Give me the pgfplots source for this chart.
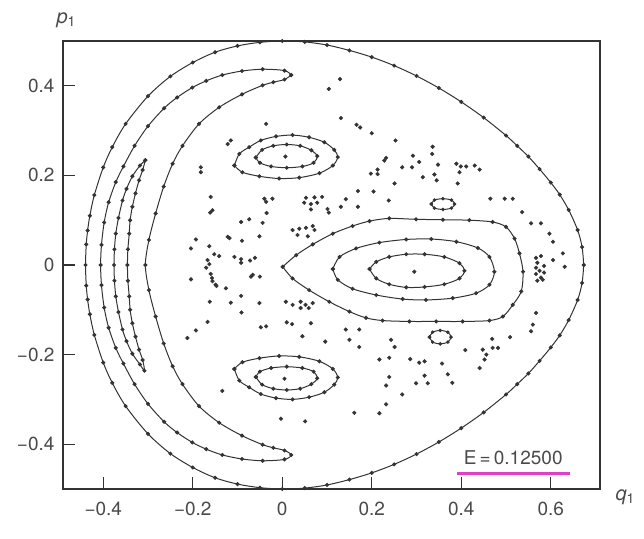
\documentclass[border=0pt]{standalone}
\usepackage{fontspec}
\setmainfont{TeX Gyre Heros}
\usepackage{pgfplots}
\pgfplotsset{compat=1.18}
\definecolor{ink}{HTML}{333333}
\definecolor{txt}{HTML}{4A4A4A}
\definecolor{hl}{HTML}{E040C8}
\pgfplotsset{
  orbit/.style={smooth, tension=0.5, line width=1pt, color=ink, mark=*, mark size=1.5pt},
  sea/.style={only marks, mark=*, mark size=1.9pt, color=ink},
}
\begin{document}
\begin{tikzpicture}
\useasboundingbox (-63pt,-49pt) rectangle (581pt,489pt);
\begin{axis}[
  scale only axis, width=537pt, height=448pt,
  xmin=-0.49, xmax=0.71, ymin=-0.5, ymax=0.5,
  clip=false,
  axis line style={draw=ink, line width=1.3pt},
  tick align=inside, tick pos=left, major tick length=12pt,
  tick style={draw=ink, line width=1.3pt},
  xtick={-0.4,-0.2,0,0.2,0.4,0.6},
  xticklabels={−0.4,−0.2,0,0.2,0.4,0.6},
  ytick={-0.4,-0.2,0,0.2,0.4},
  yticklabels={−0.4,−0.2,0,0.2,0.4},
  tick label style={font=\fontsize{19}{21}\selectfont, color=txt},
  xticklabel style={yshift=-9pt},
  yticklabel style={xshift=-5pt},
  xlabel={\textit{q}\textsubscript{1}},
  ylabel={\textit{p}\textsubscript{1}},
  every axis x label/.style={at={(rel axis cs:1,0)}, anchor=west, xshift=12pt, yshift=-8pt, font=\fontsize{20}{22}\selectfont, color=txt},
  every axis y label/.style={at={(rel axis cs:0,1)}, anchor=south west, xshift=-10pt, yshift=10pt, font=\fontsize{20}{22}\selectfont, color=txt},
]
% energy boundary
\addplot[orbit] coordinates {(0.6736,0) (0.670,0.040) (0.660,0.078) (0.640,0.123) (0.620,0.157) (0.600,0.184) (0.575,0.214) (0.550,0.242) (0.525,0.266) (0.500,0.289) (0.450,0.329) (0.400,0.364) (0.350,0.395) (0.300,0.422) (0.250,0.445) (0.200,0.464) (0.150,0.479) (0.100,0.491) (0.050,0.498) (0,0.500) (-0.050,0.497) (-0.100,0.489) (-0.150,0.475) (-0.200,0.452) (-0.250,0.421) (-0.300,0.377) (-0.350,0.315) (-0.380,0.263) (-0.400,0.218) (-0.420,0.156) (-0.430,0.110) (-0.435,0.077) (-0.438,0.046) (-0.4397,0) (-0.438,-0.046) (-0.435,-0.077) (-0.430,-0.110) (-0.420,-0.156) (-0.400,-0.218) (-0.380,-0.263) (-0.350,-0.315) (-0.300,-0.377) (-0.250,-0.421) (-0.200,-0.452) (-0.150,-0.475) (-0.100,-0.489) (-0.050,-0.497) (0,-0.500) (0.050,-0.498) (0.100,-0.491) (0.150,-0.479) (0.200,-0.464) (0.250,-0.445) (0.300,-0.422) (0.350,-0.395) (0.400,-0.364) (0.450,-0.329) (0.500,-0.289) (0.525,-0.266) (0.550,-0.242) (0.575,-0.214) (0.600,-0.184) (0.620,-0.157) (0.640,-0.123) (0.660,-0.078) (0.670,-0.040) (0.6736,0)};
% big crescent
\addplot[orbit] coordinates {(0.020,0.424) (0.005,0.434) (-0.044,0.437) (-0.090,0.433) (-0.134,0.424) (-0.170,0.411) (-0.201,0.396) (-0.235,0.374) (-0.264,0.350) (-0.300,0.310) (-0.330,0.266) (-0.355,0.220) (-0.372,0.185) (-0.388,0.140) (-0.398,0.095) (-0.404,0.045) (-0.406,0) (-0.404,-0.045) (-0.398,-0.095) (-0.388,-0.140) (-0.372,-0.185) (-0.355,-0.220) (-0.330,-0.266) (-0.300,-0.310) (-0.264,-0.350) (-0.235,-0.374) (-0.201,-0.396) (-0.170,-0.411) (-0.134,-0.424) (-0.090,-0.433) (-0.044,-0.437) (0.005,-0.434) (0.020,-0.424) (0.005,-0.414) (-0.020,-0.408) (-0.044,-0.401) (-0.090,-0.381) (-0.141,-0.352) (-0.186,-0.315) (-0.223,-0.266) (-0.245,-0.226) (-0.265,-0.175) (-0.283,-0.115) (-0.298,-0.056) (-0.306,0) (-0.298,0.056) (-0.283,0.115) (-0.265,0.175) (-0.245,0.226) (-0.223,0.266) (-0.186,0.315) (-0.141,0.352) (-0.090,0.381) (-0.044,0.401) (-0.020,0.408) (0.005,0.414) (0.020,0.424)};
% small crescent
\addplot[orbit] coordinates {(-0.306,0.234) (-0.318,0.222) (-0.335,0.198) (-0.348,0.170) (-0.357,0.144) (-0.366,0.105) (-0.372,0.070) (-0.375,0.035) (-0.376,0) (-0.375,-0.035) (-0.372,-0.070) (-0.366,-0.105) (-0.357,-0.144) (-0.348,-0.170) (-0.335,-0.198) (-0.318,-0.222) (-0.308,-0.236) (-0.312,-0.212) (-0.320,-0.189) (-0.328,-0.160) (-0.335,-0.130) (-0.340,-0.100) (-0.342,-0.070) (-0.345,-0.035) (-0.346,0) (-0.345,0.035) (-0.342,0.070) (-0.340,0.100) (-0.335,0.130) (-0.328,0.160) (-0.320,0.189) (-0.312,0.212) (-0.306,0.234)};
% upper island
\addplot[orbit] coordinates {(-0.107,0.222) (-0.096,0.248) (-0.074,0.263) (-0.048,0.278) (-0.014,0.287) (0.023,0.290) (0.060,0.285) (0.094,0.274) (0.116,0.257) (0.124,0.241) (0.113,0.222) (0.083,0.205) (0.038,0.195) (-0.007,0.193) (-0.051,0.198) (-0.089,0.207) (-0.107,0.222)};
\addplot[orbit] coordinates {(-0.059,0.240) (-0.045,0.257) (-0.020,0.266) (0.010,0.269) (0.040,0.266) (0.065,0.256) (0.078,0.243) (0.070,0.228) (0.045,0.220) (0.010,0.217) (-0.025,0.220) (-0.050,0.228) (-0.059,0.240)};
% lower island
\addplot[orbit] coordinates {(-0.107,-0.232) (-0.096,-0.258) (-0.074,-0.273) (-0.048,-0.288) (-0.014,-0.297) (0.023,-0.300) (0.060,-0.295) (0.094,-0.284) (0.116,-0.267) (0.124,-0.251) (0.113,-0.232) (0.083,-0.215) (0.038,-0.205) (-0.007,-0.203) (-0.051,-0.208) (-0.089,-0.217) (-0.107,-0.232)};
\addplot[orbit] coordinates {(-0.059,-0.250) (-0.045,-0.267) (-0.020,-0.276) (0.010,-0.279) (0.040,-0.276) (0.065,-0.266) (0.078,-0.253) (0.070,-0.238) (0.045,-0.230) (0.010,-0.227) (-0.025,-0.230) (-0.050,-0.238) (-0.059,-0.250)};
% big right island
\addplot[orbit] coordinates {(0.001,-0.004) (0.031,0.022) (0.068,0.046) (0.113,0.070) (0.157,0.087) (0.195,0.098) (0.239,0.104) (0.299,0.102) (0.359,0.101) (0.418,0.100) (0.470,0.096) (0.500,0.085) (0.519,0.059) (0.530,0.026) (0.538,-0.015) (0.534,-0.059) (0.515,-0.089) (0.493,-0.115) (0.463,-0.124) (0.403,-0.126) (0.344,-0.126) (0.284,-0.126) (0.224,-0.124) (0.187,-0.118) (0.150,-0.104) (0.105,-0.082) (0.060,-0.056) (0.023,-0.030) (0.001,-0.004)};
\addplot[orbit] coordinates {(0.113,-0.009) (0.128,0.018) (0.165,0.037) (0.217,0.050) (0.277,0.057) (0.333,0.058) (0.389,0.052) (0.437,0.038) (0.463,0.018) (0.474,-0.015) (0.463,-0.044) (0.433,-0.063) (0.381,-0.074) (0.321,-0.078) (0.269,-0.076) (0.210,-0.067) (0.157,-0.053) (0.124,-0.033) (0.113,-0.009)};
\addplot[orbit] coordinates {(0.195,-0.009) (0.210,0.007) (0.239,0.018) (0.277,0.024) (0.318,0.024) (0.362,0.018) (0.396,0.004) (0.407,-0.013) (0.396,-0.030) (0.362,-0.043) (0.318,-0.049) (0.277,-0.050) (0.239,-0.043) (0.210,-0.030) (0.195,-0.009)};
% small islands
\addplot[orbit, mark size=1.2pt] coordinates {(0.333,0.136) (0.340,0.145) (0.359,0.148) (0.378,0.145) (0.385,0.136) (0.378,0.127) (0.359,0.124) (0.340,0.127) (0.333,0.136)};
\addplot[orbit, mark size=1.2pt] coordinates {(0.329,-0.161) (0.336,-0.150) (0.353,-0.146) (0.370,-0.150) (0.377,-0.161) (0.370,-0.172) (0.353,-0.176) (0.336,-0.172) (0.329,-0.161)};
% island centres
\addplot[sea] coordinates {(0.007,0.242) (0.005,-0.254) (0.295,-0.015)};
% chaotic sea
\addplot[sea] coordinates {
(-0.182,0.218) (-0.182,0.207) (-0.160,0.152) (-0.156,0.122) (-0.161,0.117)
(-0.040,0.148) (-0.036,0.141) (-0.022,0.148) (-0.035,0.116)
(-0.092,0.096) (-0.074,0.102) (-0.044,0.094) (-0.051,0.064) (-0.122,0.063) (-0.118,0.060) (-0.090,0.054)
(-0.193,0.057) (-0.204,0.037) (-0.163,0.042) (-0.152,0.024) (-0.141,0.020)
(-0.167,0.011) (-0.163,0.002) (-0.170,-0.006) (-0.107,0.018) (-0.092,0.013) (-0.092,0.005) (-0.072,0.010) (-0.061,0.016)
(-0.160,-0.020) (-0.157,-0.029) (-0.204,-0.032) (-0.070,-0.026) (-0.050,-0.026) (-0.066,-0.022)
(-0.147,-0.047) (-0.126,-0.052) (-0.092,-0.069) (-0.162,-0.082) (-0.115,-0.084) (-0.051,-0.085) (-0.091,-0.106)
(-0.167,-0.127) (-0.193,-0.146) (-0.212,-0.163) (-0.048,-0.139) (-0.036,-0.137) (-0.156,-0.036) (-0.149,-0.044)
(0.008,-0.082) (0.023,-0.089) (0.041,-0.082) (0.052,-0.089) (0.041,-0.096) (0.059,-0.096) (0.068,-0.085)
(0.010,-0.128) (0.022,-0.132) (0.064,-0.130) (0.045,-0.159) (0.096,-0.171)
(0.023,0.078) (0.038,0.081) (0.053,0.083) (0.068,0.087) (0.072,0.078) (0.034,0.067) (0.057,0.064)
(0.053,0.150) (0.072,0.151) (0.089,0.152) (0.049,0.139) (0.064,0.136) (0.078,0.139) (0.101,0.125) (0.064,0.124)
(0.131,0.130) (0.142,0.147) (0.169,0.130) (0.104,0.117)
(-0.036,0.315) (-0.122,0.270) (-0.115,0.278)
(0.129,0.415) (0.104,0.393) (0.131,0.328) (0.166,0.313) (0.174,0.307) (0.200,0.294) (0.253,0.278)
(0.336,0.264) (0.335,0.248) (0.232,0.239) (0.228,0.233) (0.292,0.244) (0.306,0.230) (0.268,0.218) (0.290,0.218)
(0.348,0.224) (0.389,0.226) (0.399,0.220) (0.411,0.220) (0.430,0.222) (0.441,0.213) (0.396,0.207)
(0.198,0.204) (0.213,0.213) (0.213,0.203) (0.314,0.196) (0.340,0.202) (0.345,0.189) (0.251,0.182) (0.392,0.182)
(0.169,0.165) (0.204,0.164) (0.238,0.144) (0.465,0.148) (0.497,0.148) (0.515,0.148) (0.536,0.118)
(0.556,0.093) (0.578,0.093) (0.597,0.070) (0.605,0.052) (0.627,0.026) (0.605,0.011) (0.631,-0.004)
(0.567,0.016) (0.578,0.020) (0.570,0.005) (0.585,-0.002) (0.567,-0.006) (0.575,-0.013) (0.585,-0.017)
(0.567,-0.020) (0.578,-0.028) (0.570,-0.035) (0.582,-0.033)
(0.567,-0.107) (0.560,-0.133) (0.556,-0.148) (0.509,-0.161) (0.469,-0.165) (0.409,-0.190) (0.448,-0.189)
(0.456,-0.200) (0.452,-0.211) (0.441,-0.230) (0.470,-0.185) (0.482,-0.185)
(0.142,-0.144) (0.150,-0.167) (0.172,-0.144) (0.172,-0.183) (0.243,-0.167) (0.251,-0.183) (0.217,-0.211)
(0.239,-0.207) (0.286,-0.210) (0.306,-0.218) (0.318,-0.215) (0.357,-0.220) (0.239,-0.250) (0.232,-0.269)
(0.318,-0.247) (0.299,-0.264) (0.325,-0.264) (0.370,-0.244) (0.380,-0.263) (0.268,-0.289) (0.232,-0.311)
(0.217,-0.331) (0.161,-0.330)
(-0.134,-0.281) (-0.003,-0.343) (0.051,-0.349)
};
\node[font=\fontsize{19}{21}\selectfont, color=txt] at (axis cs:0.516,-0.430) {E\,=\,0.12500};
\draw[hl, line width=2.8pt] (axis cs:0.391,-0.466) -- (axis cs:0.642,-0.466);
\end{axis}
\end{tikzpicture}
\end{document}
